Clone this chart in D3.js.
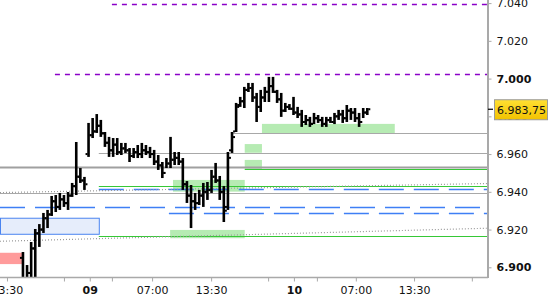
<!DOCTYPE html>
<html>
<head>
<meta charset="utf-8">
<script src="https://cdn.jsdelivr.net/npm/d3@7"></script>
<style>
  body { margin: 0; background: #fff; }
  svg { display: block; font-family: "DejaVu Sans", Verdana, sans-serif; }
</style>
</head>
<body>
<div id="chart-container"></div>
<script>
// bars, one per slot (index)
let opens = [6905, 6893, 6897, 6910, 6918, 6920, 6926, 6928, 6935, 6932, 6936, 6934, 6938, 6943, 6948, 6946, 6960, 6970, 6972, 6975,
  6971, 6966, 6962, 6965, 6961, 6963, 6962, 6959, 6961, 6960, 6962, 6961, 6960, 6956, 6954, 6950, 6955, 6957, 6958, 6956,
  6944, 6938, 6935, 6934, 6938, 6940, 6941, 6948, 6946, 6940, 6932, 6962, 6972, 6986, 6988, 6994, 6995, 6990, 6985, 6990,
  6993, 6996, 6993, 6989, 6983, 6985, 6984, 6982, 6981, 6977, 6978, 6976, 6979, 6978, 6976, 6978, 6977, 6980, 6981, 6979,
  6983, 6982, 6979, 6977, 6982];
let highs = [6908.1, 6901.2, 6913.4, 6920.3, 6922.9, 6928.8, 6930.4, 6937.8, 6938.3, 6939.4, 6938.3, 6939.9, 6944.7, 6966.4, 6952.6, 6947.9, 6976.5, 6979.1, 6981.2, 6978.1,
  6971.7, 6969.1, 6968.5, 6968.5, 6965.9, 6965.9, 6963.2, 6963.2, 6964.8, 6965.9, 6964.8, 6963.8, 6962.2, 6959.5, 6955.8, 6957.9, 6969.1, 6961.1, 6961.1, 6957.9,
  6945.7, 6943.6, 6939.4, 6941.0, 6944.7, 6945.2, 6951.6, 6955.3, 6948.4, 6943.1, 6961.1, 6971.7, 6987.1, 6990.3, 6995.6, 6997.7, 6997.7, 6992.4, 6994.0, 6995.6,
  7000.9, 7000.9, 6994.0, 6992.4, 6987.1, 6986.5, 6990.3, 6985.0, 6983.4, 6980.7, 6979.7, 6981.8, 6980.7, 6979.7, 6979.7, 6979.7, 6981.8, 6983.4, 6983.4, 6986.0,
  6984.4, 6984.4, 6981.8, 6984.4, 6984.4];
let lows = [6890.6, 6890.6, 6890.6, 6893.3, 6910.8, 6918.2, 6920.8, 6927.2, 6929.3, 6930.4, 6932.0, 6930.4, 6937.3, 6938.3, 6944.7, 6941.0, 6958.5, 6968.5, 6971.2, 6969.1,
  6963.8, 6958.5, 6958.5, 6959.5, 6959.5, 6960.6, 6955.8, 6957.9, 6957.9, 6957.9, 6959.5, 6957.9, 6954.2, 6951.6, 6947.3, 6952.6, 6952.6, 6954.2, 6954.2, 6941.0,
  6934.1, 6920.8, 6930.4, 6933.0, 6932.0, 6935.7, 6939.4, 6944.7, 6935.7, 6924.0, 6930.4, 6960.6, 6971.7, 6985.0, 6984.4, 6992.9, 6987.6, 6977.0, 6982.3, 6987.6,
  6987.6, 6992.4, 6987.1, 6979.7, 6982.3, 6983.4, 6980.7, 6979.1, 6974.4, 6975.4, 6974.4, 6975.9, 6976.5, 6974.4, 6974.4, 6976.5, 6975.9, 6978.1, 6976.5, 6977.0,
  6978.1, 6977.0, 6974.4, 6979.1, 6980.7];
let closes = [6893, 6897, 6910, 6918, 6920, 6926, 6928, 6935, 6932, 6936, 6934, 6938, 6943, 6948, 6946, 6944, 6970, 6972, 6975, 6971,
  6966, 6962, 6965, 6961, 6963, 6962, 6959, 6961, 6960, 6962, 6961, 6960, 6956, 6954, 6950, 6955, 6957, 6958, 6956, 6944,
  6938, 6935, 6934, 6938, 6940, 6941, 6948, 6946, 6940, 6930, 6958, 6969, 6985, 6988, 6994, 6995, 6990, 6985, 6990, 6993,
  6996, 6993, 6989, 6983, 6985, 6984, 6982, 6981, 6977, 6978, 6976, 6979, 6978, 6976, 6978, 6977, 6980, 6981, 6979, 6983,
  6982, 6979, 6977, 6982, 6983.75];
let lastPrice = 6983.75;

// x axis (slot units)
let tickSlots = [-3.9, 10.0, 16.3, 21.7, 31.5, 45.9, 59.8, 66.1, 71.7, 81.2, 95.4, 109.5];
let tickLabels = ["13:30", "", "09", "", "07:00", "13:30", "", "10", "", "07:00", "13:30", ""];
let boldLabels = ["09", "10"];

// y axis
let priceTicks = [6900, 6920, 6940, 6960, 6980, 7000, 7020, 7040];

// drawn levels: [start slot, price]
let purpleLevels = [[21.7, 7039.4], [7.8, 7002.3]];
let grayLevels = [[51, 6971.0], [18.5, 6960.4], [-5.6, 6939.2]];
let grayThickLevels = [[-5.6, 6953.3]];
let greenLevels = [[54.1, 6952.0], [18.5, 6942.9], [18.5, 6916.6]];
let blueLevels = [[-5.6, 6932.1], [18.5, 6941.3], [35.6, 6928.9]];
// dotted trend lines: price at left edge, price at right edge
let trendLines = [[6939.6, 6944.4], [6913.8, 6920.7]];
// zones: [slot from, slot to, price top, price bottom]
let greenZones = [[58.3, 90.7, 6976.0, 6971.0], [54.1, 58.3, 6965.3, 6960.7], [54.1, 58.3, 6956.9, 6952.1],
  [36.6, 54.1, 6946.3, 6940.1], [35.9, 54.1, 6919.8, 6915.4]];
let blueZones = [[-5.6, 18.5, 6926.0, 6917.5]];
let redZones = [[-5.6, -0.25, 6907.7, 6901.7]];

let w = 550, h = 300;
let plotW = 488, plotH = 277;
let axisColor = "#a9a9a9";

const svg = d3.select("#chart-container")
  .append("svg")
  .attr("width", w)
  .attr("height", h);

let xScale = d3.scaleLinear().domain([-5.6, 113.2]).range([0, plotW - 1]);
let yScale = d3.scaleLinear().domain([6900, 7040]).range([267.3, 3.1]);

const locale = d3.formatLocale({ decimal: ",", thousands: ".", grouping: [3], currency: ["", ""] });
const fmtTick = locale.format(",.0f");
const fmtPrice = locale.format(",.2f");

svg.append("clipPath").attr("id", "plot-clip")
  .append("rect").attr("x", 0).attr("y", 0).attr("width", plotW - 1).attr("height", plotH);

const plot = svg.append("g").attr("clip-path", "url(#plot-clip)");
const xEnd = xScale.domain()[1];

function zones(list, fill, stroke) {
  plot.selectAll(null)
    .data(list)
    .enter()
    .append("rect")
    .attr("x", d => xScale(d[0]) + (stroke ? 0.5 : 0))
    .attr("y", d => yScale(d[2]))
    .attr("width", d => xScale(d[1]) - xScale(d[0]))
    .attr("height", d => yScale(d[3]) - yScale(d[2]))
    .attr("fill", fill)
    .attr("stroke", stroke || "none");
}

function levels(list, color, width, dash) {
  plot.selectAll(null)
    .data(list)
    .enter()
    .append("line")
    .attr("x1", d => xScale(d[0]))
    .attr("x2", xScale(xEnd))
    .attr("y1", d => Math.round(yScale(d[1])) + 0.5)
    .attr("y2", d => Math.round(yScale(d[1])) + 0.5)
    .attr("stroke", color)
    .attr("stroke-width", width)
    .attr("stroke-dasharray", dash || null);
}

zones(greenZones, "#b6ebb3");
zones(blueZones, "#e6edfb", "#4a84f0");
zones(redZones, "#ff9b9b");

levels(grayLevels, "#a8a8a8", 1);
levels(grayThickLevels, "#a0a0a0", 2);
levels(greenLevels, "#36c836", 1.2);
levels(blueLevels, "#3f7ff5", 1.5, "25,10");
levels(purpleLevels, "#8a00c8", 1.3, "5,5");

plot.selectAll(null)
  .data(trendLines)
  .enter()
  .append("line")
  .attr("x1", xScale(-5.6))
  .attr("x2", xScale(xEnd))
  .attr("y1", d => yScale(d[0]))
  .attr("y2", d => yScale(d[1]))
  .attr("stroke", "#999")
  .attr("stroke-width", 1.2)
  .attr("stroke-dasharray", "1,2");

// OHLC bars
let bars = closes.map((c, i) => ({ i: i, o: opens[i], h: highs[i], l: lows[i], c: c }));

const barG = plot.append("g").attr("fill", "#000");
barG.selectAll("rect.bar")
  .data(bars)
  .enter()
  .append("rect")
  .attr("class", "bar")
  .attr("x", d => xScale(d.i) - 1.3)
  .attr("y", d => yScale(d.h))
  .attr("width", 2.6)
  .attr("height", d => Math.max(2, yScale(d.l) - yScale(d.h)));
barG.selectAll("rect.open")
  .data(bars)
  .enter()
  .append("rect")
  .attr("x", d => xScale(d.i) - 3)
  .attr("y", d => yScale(d.o) - 1)
  .attr("width", 2)
  .attr("height", 2);
barG.selectAll("rect.close")
  .data(bars)
  .enter()
  .append("rect")
  .attr("x", d => xScale(d.i) + 1)
  .attr("y", d => yScale(d.c) - 1)
  .attr("width", 2)
  .attr("height", 2);

// right axis
const yAxis = d3.axisRight(yScale)
  .tickValues(priceTicks)
  .tickSize(4)
  .tickPadding(5)
  .tickFormat(fmtTick);

const yG = svg.append("g")
  .attr("transform", "translate(" + (plotW - 0.5) + ",0)")
  .call(yAxis);
yG.select(".domain").remove();
yG.selectAll(".tick line").attr("stroke", axisColor);
yG.selectAll(".tick text")
  .attr("fill", "#111")
  .style("font-size", "11px")
  .style("font-family", "'DejaVu Sans', sans-serif")
  .style("font-weight", d => d % 100 === 0 ? "bold" : "normal");

// bottom axis
const xAxis = d3.axisBottom(xScale)
  .tickValues(tickSlots)
  .tickSize(4)
  .tickPadding(5)
  .tickFormat((d, i) => tickLabels[i]);

const xG = svg.append("g")
  .attr("transform", "translate(0," + (plotH + 0.5) + ")")
  .call(xAxis);
xG.select(".domain").remove();
xG.selectAll(".tick line").attr("stroke", axisColor);
xG.selectAll(".tick text")
  .attr("fill", "#111")
  .style("font-size", "11px")
  .style("font-family", "'DejaVu Sans', sans-serif")
  .style("font-weight", (d, i) => boldLabels.includes(tickLabels[i]) ? "bold" : "normal");

// frame lines
svg.append("line")
  .attr("x1", plotW).attr("x2", plotW)
  .attr("y1", 0).attr("y2", plotH + 1)
  .attr("stroke", axisColor).attr("stroke-width", 2);
svg.append("line")
  .attr("x1", 0).attr("x2", plotW)
  .attr("y1", plotH + 0.5).attr("y2", plotH + 0.5)
  .attr("stroke", axisColor).attr("stroke-width", 1.5);

// last price marker
let py = yScale(lastPrice);
svg.append("line")
  .attr("x1", plotW).attr("x2", plotW + 5)
  .attr("y1", py).attr("y2", py)
  .attr("stroke", "#000").attr("stroke-width", 1.2);

const grad = svg.append("defs").append("linearGradient")
  .attr("id", "gold").attr("x1", 0).attr("x2", 0).attr("y1", 0).attr("y2", 1);
grad.append("stop").attr("offset", "0%").attr("stop-color", "#ffe033");
grad.append("stop").attr("offset", "100%").attr("stop-color", "#f2c200");

svg.append("rect")
  .attr("x", 494.5).attr("y", py - 9.5)
  .attr("width", 53).attr("height", 20)
  .attr("fill", "url(#gold)")
  .attr("stroke", "#9a9a9a");
svg.append("text")
  .attr("x", 497).attr("y", py + 4.5)
  .style("font-size", "11px")
  .attr("fill", "#111")
  .text(fmtPrice(lastPrice));
</script>
</body>
</html>
